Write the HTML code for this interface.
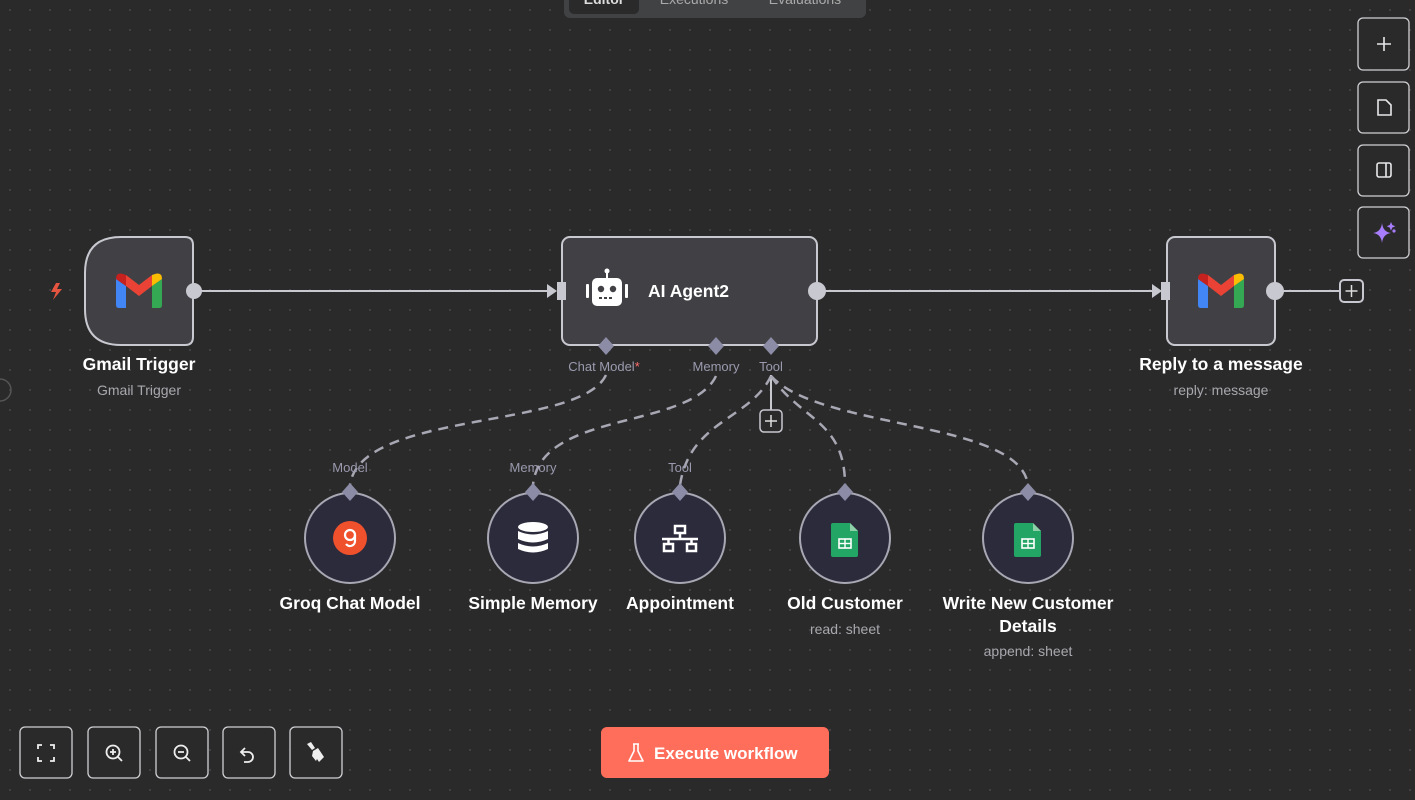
<!DOCTYPE html>
<html><head><meta charset="utf-8"><style>
html,body{margin:0;padding:0;background:#2a2a2b;width:1415px;height:800px;overflow:hidden}
svg{display:block}
text{font-family:"Liberation Sans",Arial,sans-serif}
</style></head><body>
<svg width="1415" height="800" viewBox="0 0 1415 800" xmlns="http://www.w3.org/2000/svg">
<defs>
<pattern id="dots" width="20" height="20" patternUnits="userSpaceOnUse">
<circle cx="10" cy="10" r="0.9" fill="#505052"/>
</pattern>
<g id="gm">
<path d="M-23,-12 L-23,14 Q-23,17 -20,17 L-13,17 L-13,-5 Z" fill="#4285f4"/>
<path d="M23,-12 L23,14 Q23,17 20,17 L13,17 L13,-5 Z" fill="#34a853"/>
<path d="M-13,-5 L0,5 L13,-5 L13,-16 L0,-6 L-13,-16 Z" fill="#ea4335"/>
<path d="M-23,-12 Q-23,-19 -16,-17 L-13,-16 L-13,-5 L-23,-12 Z" fill="#c5221f"/>
<path d="M23,-12 Q23,-19 16,-17 L13,-16 L13,-5 L23,-12 Z" fill="#fbbc04"/>
</g>
<g id="sheet">
<path d="M-12,-16 L5,-16 L13,-8 L13,16 Q13,18 11,18 L-12,18 Q-14,18 -14,16 L-14,-14 Q-14,-16 -12,-16 Z" fill="#23a566"/>
<path d="M5,-16 L13,-8 L5,-8 Z" fill="#8ed1a8"/>
<rect x="-6" y="0" width="12" height="9" fill="none" stroke="#fff" stroke-width="1.6"/>
<line x1="-6" y1="4.5" x2="6" y2="4.5" stroke="#fff" stroke-width="1.4"/>
<line x1="0" y1="0" x2="0" y2="9" stroke="#fff" stroke-width="1.4"/>
</g>
</defs>
<rect width="1415" height="800" fill="#2a2a2b"/>
<rect width="1415" height="800" fill="url(#dots)"/>

<!-- top tab bar -->
<rect x="564" y="-12" width="302" height="30" rx="6" fill="#414244"/>
<rect x="569" y="-12" width="70" height="26" rx="5" fill="#2a2a2b"/>
<text x="604" y="4" fill="#ddd" font-size="14" text-anchor="middle" font-weight="bold">Editor</text>
<text x="694" y="4" fill="#aaa" font-size="14" text-anchor="middle">Executions</text>
<text x="805" y="4" fill="#aaa" font-size="14" text-anchor="middle">Evaluations</text>

<!-- main connectors -->
<line x1="200" y1="291" x2="550" y2="291" stroke="#c8c8d0" stroke-width="2"/>
<path d="M547,284 L557,291 L547,298 Z" fill="#c8c8d0"/>
<line x1="824" y1="291" x2="1155" y2="291" stroke="#c8c8d0" stroke-width="2"/>
<path d="M1152,284 L1162,291 L1152,298 Z" fill="#c8c8d0"/>
<line x1="1280" y1="291" x2="1340" y2="291" stroke="#c8c8d0" stroke-width="2"/>
<rect x="1340" y="280" width="23" height="22" rx="4" fill="#2a2a2b" stroke="#c8c8d0" stroke-width="2"/>
<path d="M1345.5,291 h12 M1351.5,285 v12" stroke="#ddd" stroke-width="1.5"/>

<!-- Gmail trigger -->
<path d="M56,283 L51,292 L56,292 L53,300 L62,289 L57,289 L60,283 Z" fill="#e5553f"/>
<path d="M121,237 L185,237 Q193,237 193,245 L193,337 Q193,345 185,345 L121,345 Q85,345 85,309 L85,273 Q85,237 121,237 Z" fill="#414145" stroke="#c8c8d0" stroke-width="2"/>
<use href="#gm" x="139" y="291"/>
<circle cx="194" cy="291" r="8" fill="#c8c8d0"/>
<text x="139" y="370" fill="#fff" font-size="17.5" text-anchor="middle" font-weight="bold">Gmail Trigger</text>
<text x="139" y="395" fill="#a8a8ae" font-size="14" text-anchor="middle">Gmail Trigger</text>

<!-- AI Agent -->
<rect x="562" y="237" width="255" height="108" rx="8" fill="#414145" stroke="#c8c8d0" stroke-width="2"/>
<rect x="557" y="282" width="9" height="18" fill="#c8c8d0"/>
<g fill="#fff">
<rect x="592" y="278" width="30" height="28" rx="5"/>
<rect x="586" y="284" width="3" height="14" rx="1"/>
<rect x="625" y="284" width="3" height="14" rx="1"/>
<rect x="606" y="271" width="2" height="7"/>
<circle cx="607" cy="271" r="2.5"/>
</g>
<circle cx="601" cy="289" r="3.2" fill="#414145"/>
<circle cx="613" cy="289" r="3.2" fill="#414145"/>
<path d="M599,298 h3 M604,298 h3 M609,298 h3" stroke="#414145" stroke-width="2"/>
<text x="648" y="297" fill="#fff" font-size="17.5" font-weight="bold">AI Agent2</text>
<circle cx="817" cy="291" r="9" fill="#c8c8d0"/>

<!-- agent ports -->
<g fill="#8c8ca6">
<path d="M606,337 L614,346 L606,355 L598,346 Z"/>
<path d="M716,337 L724,346 L716,355 L708,346 Z"/>
<path d="M771,337 L779,346 L771,355 L763,346 Z"/>
</g>
<text x="604" y="371" fill="#9a9aae" font-size="13" text-anchor="middle">Chat Model<tspan fill="#ff6d6d">*</tspan></text>
<text x="716" y="371" fill="#9a9aae" font-size="13" text-anchor="middle">Memory</text>
<text x="771" y="371" fill="#9a9aae" font-size="13" text-anchor="middle">Tool</text>
<line x1="771" y1="375" x2="771" y2="410" stroke="#c8c8d0" stroke-width="2"/>
<rect x="760" y="410" width="22" height="22" rx="4" fill="#2a2a2b" stroke="#c8c8d0" stroke-width="1.5"/>
<path d="M765,421 h12 M771,415 v12" stroke="#ddd" stroke-width="1.5"/>

<!-- dashed connectors -->
<g fill="none" stroke="#a8a8b4" stroke-width="2.5" stroke-dasharray="10,7">
<path d="M606,375 C580,430 360,410 350,485"/>
<path d="M716,376 C690,430 540,410 533,485"/>
<path d="M771,376 C750,420 690,420 680,485"/>
<path d="M771,376 C800,420 845,420 845,485"/>
<path d="M771,376 C820,430 1020,420 1028,485"/>
</g>
<g fill="#9a9aae" font-size="13" text-anchor="middle">
<text x="350" y="472">Model</text>
<text x="533" y="472">Memory</text>
<text x="680" y="472">Tool</text>
</g>

<!-- sub nodes -->
<g stroke="#a8a8b4" stroke-width="2" fill="#2b2b3c">
<circle cx="350" cy="538" r="45"/>
<circle cx="533" cy="538" r="45"/>
<circle cx="680" cy="538" r="45"/>
<circle cx="845" cy="538" r="45"/>
<circle cx="1028" cy="538" r="45"/>
</g>
<g fill="#8c8ca6">
<path d="M350,483 L358,492 L350,501 L342,492 Z"/>
<path d="M533,483 L541,492 L533,501 L525,492 Z"/>
<path d="M680,483 L688,492 L680,501 L672,492 Z"/>
<path d="M845,483 L853,492 L845,501 L837,492 Z"/>
<path d="M1028,483 L1036,492 L1028,501 L1020,492 Z"/>
</g>
<!-- groq -->
<circle cx="350" cy="538" r="17" fill="#f0512d"/>
<circle cx="350" cy="535" r="5" fill="none" stroke="#fff" stroke-width="2.2"/>
<path d="M355,535 v6 a5,5 0 0 1 -9,3" fill="none" stroke="#fff" stroke-width="2.2"/>
<!-- db -->
<g fill="#fff">
<ellipse cx="533" cy="527" rx="15" ry="5"/>
<path d="M518,531 Q533,538 548,531 L548,539 Q533,546 518,539 Z"/>
<path d="M518,543 Q533,550 548,543 L548,549 Q533,556 518,549 Z"/>
</g>
<!-- network -->
<g fill="none" stroke="#fff" stroke-width="2.5">
<rect x="675" y="526" width="10" height="7"/>
<rect x="664" y="544" width="9" height="7"/>
<rect x="687" y="544" width="9" height="7"/>
<path d="M680,533 v5 M662,539 h36 M668.5,539 v5 M691.5,539 v5"/>
</g>
<use href="#sheet" x="845" y="539"/>
<use href="#sheet" x="1028" y="539"/>
<g fill="#fff" font-size="17.5" text-anchor="middle" font-weight="bold">
<text x="350" y="609">Groq Chat Model</text>
<text x="533" y="609">Simple Memory</text>
<text x="680" y="609">Appointment</text>
<text x="845" y="609">Old Customer</text>
<text x="1028" y="609">Write New Customer</text>
<text x="1028" y="632">Details</text>
</g>
<text x="845" y="634" fill="#a8a8ae" font-size="14" text-anchor="middle">read: sheet</text>
<text x="1028" y="656" fill="#a8a8ae" font-size="14" text-anchor="middle">append: sheet</text>

<!-- Reply node -->
<rect x="1167" y="237" width="108" height="108" rx="8" fill="#414145" stroke="#c8c8d0" stroke-width="2"/>
<rect x="1161" y="282" width="9" height="18" fill="#c8c8d0"/>
<use href="#gm" x="1221" y="291"/>
<circle cx="1275" cy="291" r="9" fill="#c8c8d0"/>
<text x="1221" y="370" fill="#fff" font-size="17.5" text-anchor="middle" font-weight="bold">Reply to a message</text>
<text x="1221" y="395" fill="#a8a8ae" font-size="14" text-anchor="middle">reply: message</text>

<!-- left edge circle -->
<circle cx="0" cy="390" r="11" fill="none" stroke="#555" stroke-width="1.5"/>

<!-- right buttons -->
<g fill="#2a2a2b" stroke="#d0d0d4" stroke-width="1.3">
<rect x="1358" y="18" width="51" height="52" rx="5"/>
<rect x="1358" y="82" width="51" height="51" rx="5"/>
<rect x="1358" y="145" width="51" height="51" rx="5"/>
<rect x="1358" y="207" width="51" height="51" rx="5"/>
</g>
<g fill="none" stroke="#e8e8ea" stroke-width="1.6">
<path d="M1384,37 v14 M1377,44 h14"/>
<path d="M1378,100 h8 l5,5 v10 h-13 Z"/>
<rect x="1377" y="163" width="14" height="14" rx="2"/>
<path d="M1386,163 v14"/>
</g>
<path d="M1382,223 Q1383,232 1391,233 Q1383,234 1382,243 Q1381,234 1373,233 Q1381,232 1382,223 Z" fill="#a77dfb"/>
<path d="M1391,222 l1.3,3 3,1.3 -3,1.3 -1.3,3 -1.3,-3 -3,-1.3 3,-1.3 Z" fill="#a77dfb"/>
<circle cx="1394" cy="231" r="1.6" fill="#a77dfb"/>

<!-- bottom buttons -->
<g fill="#2a2a2b" stroke="#d0d0d4" stroke-width="1.3">
<rect x="20" y="727" width="52" height="51" rx="5"/>
<rect x="88" y="727" width="52" height="51" rx="5"/>
<rect x="156" y="727" width="52" height="51" rx="5"/>
<rect x="223" y="727" width="52" height="51" rx="5"/>
<rect x="290" y="727" width="52" height="51" rx="5"/>
</g>
<g fill="none" stroke="#eee" stroke-width="1.8">
<path d="M38,749 v-4 h4 M50,745 h4 v4 M54,757 v4 h-4 M42,761 h-4 v-4"/>
<circle cx="113" cy="752" r="6.5"/><path d="M118,757 l4,4 M110,752 h6 M113,749 v6"/>
<circle cx="181" cy="752" r="6.5"/><path d="M186,757 l4,4 M178,752 h6"/>
<path d="M245,748 l-4,4 4,4 M241,752 h7 a5,5 0 0 1 0,10 h-4"/>
</g>
<path d="M307,744 l4,-2 4,6 -3,2 Z M313,751 l5,-3 6,9 -5,5 -2,-3 -1,2 -4,-5 Z" fill="#eee"/>

<!-- execute -->
<rect x="601" y="727" width="228" height="51" rx="6" fill="#fe6e5b"/>
<path d="M633,744 h6 M634,744 v7 l-5,10 h14 l-5,-10 v-7" fill="none" stroke="#fff" stroke-width="1.6" stroke-linejoin="round"/>
<text x="654" y="759" fill="#fff" font-size="17" font-weight="bold">Execute workflow</text>
</svg>
</body></html>
